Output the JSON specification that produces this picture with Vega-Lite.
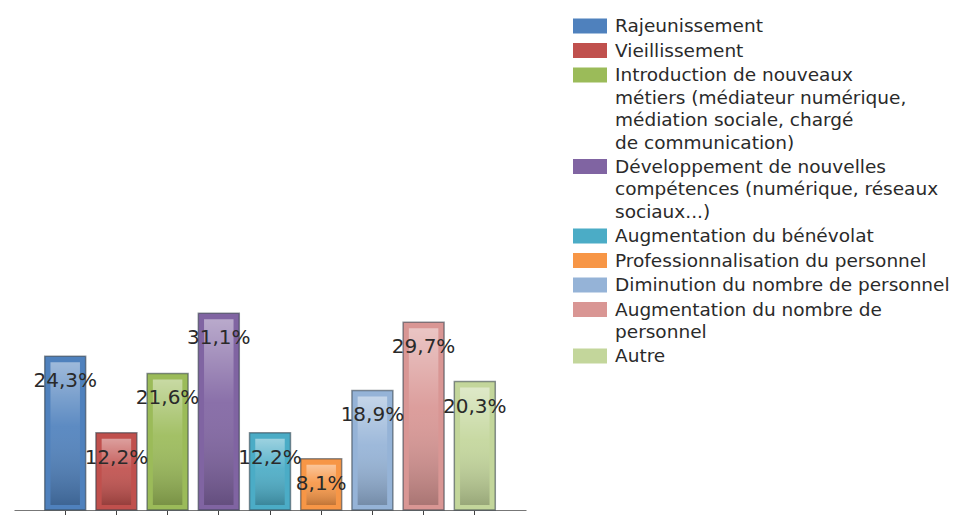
{
  "$schema": "https://vega.github.io/schema/vega-lite/v6.json",
  "width": 512,
  "height": 506,
  "autosize": {"type": "none"},
  "padding": {"left": 14, "top": 4, "right": 436, "bottom": 5},
  "background": "white",
  "config": {
    "view": {"stroke": null},
    "font": "DejaVu Sans",
    "style": {"guide-label": {"lineHeight": 22.5}},
    "locale": {"number": {"decimal": ",", "thousands": " ", "grouping": [3], "currency": ["", " €"]}}
  },
  "data": {
    "values": [
      {"categorie": "Rajeunissement", "part": 0.243},
      {"categorie": "Vieillissement", "part": 0.122},
      {"categorie": "Introduction de nouveaux\nmétiers (médiateur numérique,\nmédiation sociale, chargé\nde communication)", "part": 0.216},
      {"categorie": "Développement de nouvelles\ncompétences (numérique, réseaux\nsociaux...)", "part": 0.311},
      {"categorie": "Augmentation du bénévolat", "part": 0.122},
      {"categorie": "Professionnalisation du personnel", "part": 0.081},
      {"categorie": "Diminution du nombre de personnel", "part": 0.189},
      {"categorie": "Augmentation du nombre de\npersonnel", "part": 0.297},
      {"categorie": "Autre", "part": 0.203}
    ]
  },
  "encoding": {
    "x": {
      "field": "categorie",
      "type": "nominal",
      "sort": null,
      "scale": {"paddingInner": 0.2, "paddingOuter": 0.6},
      "axis": {"labels": false, "title": null, "domainColor": "#777", "tickColor": "#444", "tickSize": 8, "domainWidth": 1, "tickWidth": 1}
    },
    "y": {"field": "part", "type": "quantitative", "scale": {"domain": [0, 0.8]}, "axis": null}
  },
  "layer": [
    {
      "mark": {"type": "bar", "stroke": "#2f3a45", "strokeOpacity": 0.55, "strokeWidth": 1.5},
      "encoding": {
        "color": {
          "field": "categorie",
          "type": "nominal",
          "scale": {
            "domain": [
              "Rajeunissement",
              "Vieillissement",
              "Introduction de nouveaux\nmétiers (médiateur numérique,\nmédiation sociale, chargé\nde communication)",
              "Développement de nouvelles\ncompétences (numérique, réseaux\nsociaux...)",
              "Augmentation du bénévolat",
              "Professionnalisation du personnel",
              "Diminution du nombre de personnel",
              "Augmentation du nombre de\npersonnel",
              "Autre"
            ],
            "range": ["#4f81bd", "#c0504d", "#9bbb59", "#8064a2", "#4bacc6", "#f79646", "#95b3d7", "#d99694", "#c3d69b"]
          },
          "legend": {
            "orient": "none",
            "legendX": 566,
            "legendY": 12,
            "title": null,
            "symbolType": "M-1.7,-0.75H1.7V0.75H-1.7Z",
            "symbolSize": 400,
            "symbolStrokeWidth": 0,
            "symbolOpacity": 1,
            "labelFontSize": 18.5,
            "labelFont": "DejaVu Sans",
            "labelColor": "#2a2a2a",
            "labelLimit": 400,
            "labelOffset": 15,
            "rowPadding": 4.5,
            "labelExpr": "split(datum.label, '\\n')",
            "encode": {"labels": {"lineHeight": {"value": 22.5}}}
          }
        }
      }
    },
    {
      "mark": {
        "type": "bar",
        "width": {"band": 0.72},
        "yOffset": 6,
        "y2Offset": -5,
        "color": {
          "gradient": "linear",
          "x1": 0, "y1": 0, "x2": 0, "y2": 1,
          "stops": [
            {"offset": 0, "color": "rgba(255,255,255,0.45)"},
            {"offset": 0.45, "color": "rgba(255,255,255,0.08)"},
            {"offset": 1, "color": "rgba(0,0,0,0.22)"}
          ]
        }
      },
      "encoding": {"y2": {"datum": 0}}
    },
    {
      "mark": {"type": "text", "dy": 25, "fontSize": 20, "color": "#2a2a2a", "baseline": "middle", "align": "center"},
      "encoding": {"text": {"field": "part", "type": "quantitative", "format": ".1%"}}
    }
  ]
}
